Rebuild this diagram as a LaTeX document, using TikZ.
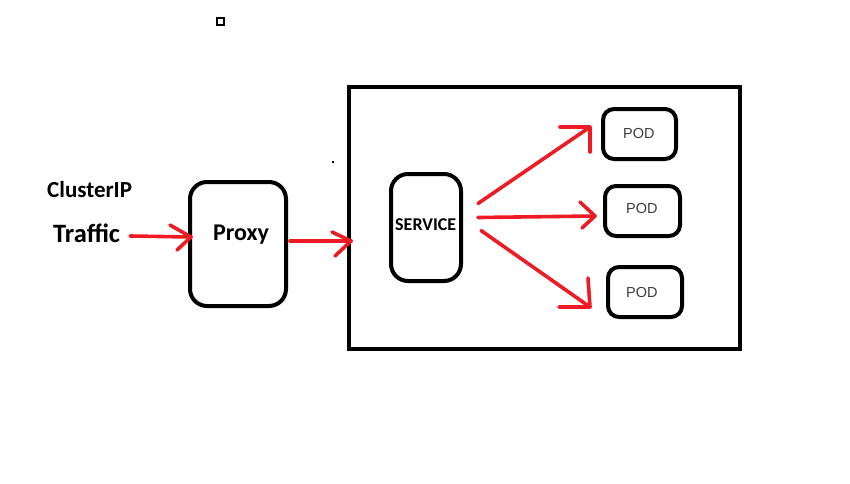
\documentclass[tikz,border=0pt]{standalone}
\usepackage{fontspec}
\setmainfont{Carlito}
\newfontfamily\podfont{Liberation Sans}
\usetikzlibrary{calc}
\definecolor{paintred}{RGB}{237,28,36}
\definecolor{podgray}{RGB}{60,60,60}
\begin{document}
\begin{tikzpicture}[x=1pt,y=-1pt,
  roundbox/.style={draw=black, line width=4pt, rounded corners=17pt, inner sep=0pt},
  podbox/.style={draw=black, line width=4pt, rounded corners=11pt, inner sep=0pt, minimum height=50pt},
  redline/.style={draw=paintred, line width=3.6pt, line cap=round, line join=round},
  lbl/.style={inner sep=0pt, anchor=base west, font=\bfseries},
  podlbl/.style={inner sep=0pt, anchor=base west, text=podgray, font=\podfont\fontsize{14.5}{15}\selectfont},
]
\useasboundingbox (0,0) rectangle (850,483);
% stray marks
\draw[line width=2pt] (217,18) rectangle (224,25);
\fill (332,161) rectangle (334,163);
% labels
\node[lbl, font=\bfseries\fontsize{23}{23}\selectfont] (cip) at (47,197) {ClusterIP};
\node[lbl, font=\bfseries\fontsize{26.5}{26.5}\selectfont] (traffic) at (53,242) {Traffic};
% boxes
\node[roundbox, minimum width=96pt, minimum height=124pt] (proxy) at (238,244) {};
\node[lbl, font=\bfseries\fontsize{24}{24}\selectfont] (proxytxt) at (213,240) {Proxy};
\node[draw=black, line width=4pt, minimum width=391pt, minimum height=262pt, inner sep=0pt] (cluster) at (544.5,218) {};
\node[roundbox, minimum width=70pt, minimum height=107pt] (svc) at (426,227.5) {};
\node[lbl, font=\bfseries\fontsize{18}{18}\selectfont] (svctxt) at (395,230) {SERVICE};
\node[podbox, minimum width=73pt] (pod1) at (639.5,134) {};
\node[podbox, minimum width=75pt] (pod2) at (642.5,211) {};
\node[podbox, minimum width=74pt] (pod3) at (645,292) {};
\node[podlbl] (p1txt) at (623,138) {POD};
\node[podlbl] (p2txt) at (626,213) {POD};
\node[podlbl] (p3txt) at (626,297) {POD};
% arrow tips
\coordinate (t0) at (191,237);
\coordinate (t1) at (351,241);
\coordinate (s1) at (590,127);
\coordinate (s2) at (595,216);
\coordinate (s3) at (590,307);
% connectors
\draw[redline] ($(traffic.east |- t0)+(10,-1)$) -- (t0);
\draw[redline] (170,225) -- (t0) -- (177,250);
\draw[redline] ($(proxy.east |- t1)+(2,0)$) -- (t1);
\draw[redline] (332,232) -- (t1) -- (335,256);
\draw[redline] ($(svc.east)+(15,-24)$) -- (s1);
\draw[redline] (560,127) -- (s1) -- (590,152);
\draw[redline] ($(svc.east)+(15,-10)$) -- (s2);
\draw[redline] (580,202) -- (s2) -- (582,228);
\draw[redline] ($(svc.east)+(18,3)$) -- (s3);
\draw[redline] (559,307) -- (s3) -- (588,278);
\end{tikzpicture}
\end{document}
